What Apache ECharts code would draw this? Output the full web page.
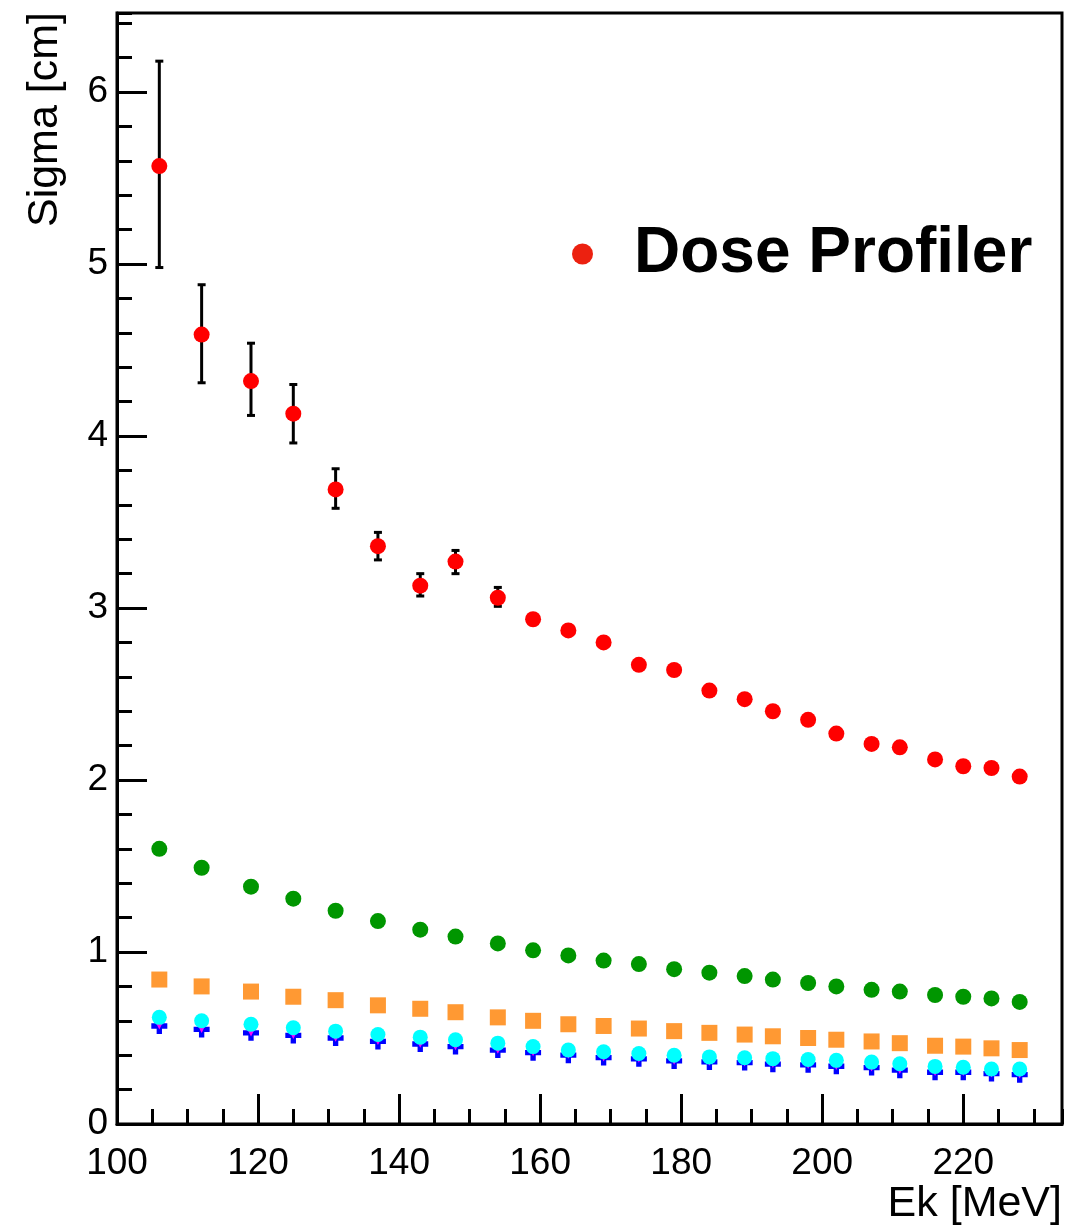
<!DOCTYPE html>
<html>
<head>
<meta charset="utf-8">
<title>Sigma vs Ek</title>
<script src="https://cdn.jsdelivr.net/npm/echarts@6/dist/echarts.min.js"></script>
<style>
  html, body { margin: 0; padding: 0; background: #fff; }
  #chart { width: 1076px; height: 1226px; }
</style>
</head>
<body>
<div id="chart"></div>
<script>
// Beam kinetic energy [MeV]
const energies = [106, 112, 119, 125, 131, 137, 143, 148, 154, 159, 164, 169, 174,
                  179, 184, 189, 193, 198, 202, 207, 211, 216, 220, 224, 228];

// Dose Profiler sigma [cm]
const doseProfiler = [5.57, 4.59, 4.32, 4.13, 3.69, 3.36, 3.13, 3.27, 3.06, 2.935, 2.87, 2.80, 2.67,
                      2.64, 2.52, 2.47, 2.40, 2.35, 2.27, 2.21, 2.19, 2.12, 2.08, 2.07, 2.02];
// Error band of the first Dose Profiler points (low / high edge)
const doseErrLow  = [4.98, 4.31, 4.12, 3.96, 3.58, 3.28, 3.07, 3.20, 3.01];
const doseErrHigh = [6.18, 4.88, 4.54, 4.30, 3.81, 3.44, 3.20, 3.335, 3.12];

// Other sigma curves [cm]
const greenSigma = [1.60, 1.49, 1.38, 1.31, 1.24, 1.18, 1.13, 1.09, 1.05, 1.01, 0.98, 0.95, 0.93,
                    0.90, 0.88, 0.86, 0.84, 0.82, 0.80, 0.78, 0.77, 0.75, 0.74, 0.73, 0.71];
const orangeSigma = [0.84, 0.80, 0.77, 0.74, 0.72, 0.69, 0.67, 0.65, 0.62, 0.60, 0.58, 0.57, 0.555,
                     0.54, 0.53, 0.52, 0.51, 0.50, 0.49, 0.48, 0.47, 0.455, 0.45, 0.44, 0.43];
const cyanSigma = [0.62, 0.60, 0.58, 0.56, 0.54, 0.52, 0.505, 0.49, 0.47, 0.45, 0.43, 0.42, 0.41,
                   0.40, 0.39, 0.385, 0.38, 0.375, 0.37, 0.36, 0.35, 0.335, 0.33, 0.32, 0.32];
const blueSigma = [0.57, 0.55, 0.53, 0.515, 0.50, 0.48, 0.465, 0.45, 0.43, 0.415, 0.40, 0.386, 0.379,
                   0.367, 0.361, 0.357, 0.348, 0.344, 0.336, 0.328, 0.313, 0.301, 0.301, 0.293, 0.287];
const magentaSigma = [0.575, 0.555, 0.535, 0.52, 0.505, 0.485, 0.47, 0.455, 0.435, 0.42, 0.405, 0.39, 0.383,
                      0.371, 0.365, 0.361, 0.352, 0.348, 0.34, 0.332, 0.317, 0.305, 0.305, 0.297, 0.291];

// Axis ranges and ticks
const xMin = 100, xMax = 234, xMajor = 20, xMinor = 5;
const yMin = 0, yMax = 6.46, yMajor = 1, yMinor = 0.2;
const xTitle = 'Ek [MeV]';
const yTitle = 'Sigma [cm]';
const legendName = 'Dose Profiler';

const FONT = '"Liberation Sans", Arial, Helvetica, sans-serif';
const pair = (xs, ys) => ys.map((v, i) => [xs[i], v]);
const errData = doseErrLow.map((lo, i) => [energies[i], lo, doseErrHigh[i]]);

const chart = echarts.init(document.getElementById('chart'), null, { renderer: 'canvas' });

const majorTick = { show: true, inside: true, length: 30, lineStyle: { color: '#000', width: 3 } };
const minorTick = { show: true, inside: true, length: 15, lineStyle: { color: '#000', width: 3 } };

const crossPath = 'path://M1,0H2V1H3V2H2V3H1V2H0V1H1Z';

chart.setOption({
  animation: false,
  backgroundColor: '#fff',
  grid: {
    left: 117, right: 14, top: 13, bottom: 102,
    show: true, borderColor: '#000', borderWidth: 3, backgroundColor: 'transparent'
  },
  legend: {
    show: true,
    left: 567, top: 217,
    itemWidth: 21, itemHeight: 21,
    icon: 'circle',
    data: [{ name: legendName, itemStyle: { color: '#ec2110', opacity: 1 } }],
    textStyle: {
      fontFamily: FONT, fontSize: 64, fontWeight: 'bold', color: '#000',
      lineHeight: 64, padding: [0, 0, 0, 36]
    }
  },
  xAxis: [
    {
      type: 'value', min: xMin, max: xMax, interval: xMajor, position: 'bottom',
      axisLine: { show: true, onZero: false, lineStyle: { color: '#000', width: 3 } },
      axisTick: majorTick,
      splitLine: { show: false },
      axisLabel: {
        show: true, margin: 21, showMaxLabel: false,
        fontFamily: FONT, fontSize: 37, color: '#000'
      }
    },
    {
      type: 'value', min: xMin, max: xMax, interval: xMinor, position: 'bottom',
      axisLine: { show: false, onZero: false },
      axisTick: minorTick,
      splitLine: { show: false },
      axisLabel: { show: false }
    }
  ],
  yAxis: [
    {
      type: 'value', min: yMin, max: yMax, interval: yMajor, position: 'left',
      axisLine: { show: true, onZero: false, lineStyle: { color: '#000', width: 3 } },
      axisTick: majorTick,
      splitLine: { show: false },
      axisLabel: {
        show: true, margin: 9, showMaxLabel: false,
        fontFamily: FONT, fontSize: 37, color: '#000'
      }
    },
    {
      type: 'value', min: yMin, max: yMax, interval: yMinor, position: 'left',
      axisLine: { show: false, onZero: false },
      axisTick: minorTick,
      splitLine: { show: false },
      axisLabel: { show: false }
    }
  ],
  graphic: [
    {
      type: 'text', x: 45, y: 12, rotation: Math.PI / 2,
      style: { text: yTitle, font: '43px ' + FONT, fill: '#000', align: 'right', verticalAlign: 'middle' }
    },
    {
      type: 'text', x: 1062, y: 1204,
      style: { text: xTitle, font: '43px ' + FONT, fill: '#000', align: 'right', verticalAlign: 'middle' }
    }
  ],
  series: [
    {
      name: 'blue', type: 'scatter', z: 2,
      symbol: crossPath, symbolSize: 16,
      itemStyle: { color: '#0000ff', opacity: 1 },
      data: pair(energies, blueSigma)
    },
    {
      name: 'magenta', type: 'scatter', z: 3,
      symbol: 'triangle', symbolRotate: 180, symbolSize: 9,
      itemStyle: { color: '#ff00ff', opacity: 1 },
      data: pair(energies, magentaSigma)
    },
    {
      name: 'cyan', type: 'scatter', z: 4,
      symbol: 'circle', symbolSize: 15,
      itemStyle: { color: '#00ffff', opacity: 1 },
      data: pair(energies, cyanSigma)
    },
    {
      name: 'orange', type: 'scatter', z: 5,
      symbol: 'rect', symbolSize: 16,
      itemStyle: { color: '#ff9933', opacity: 1 },
      data: pair(energies, orangeSigma)
    },
    {
      name: 'green', type: 'scatter', z: 6,
      symbol: 'circle', symbolSize: 16,
      itemStyle: { color: '#009600', opacity: 1 },
      data: pair(energies, greenSigma)
    },
    {
      name: 'errors', type: 'custom', z: 7,
      renderItem: function (params, api) {
        const x = api.value(0);
        const top = api.coord([x, api.value(2)]);
        const bot = api.coord([x, api.value(1)]);
        const w = 4;
        const st = { stroke: '#000', lineWidth: 3 };
        return {
          type: 'group',
          children: [
            { type: 'line', shape: { x1: top[0], y1: top[1], x2: bot[0], y2: bot[1] }, style: st },
            { type: 'line', shape: { x1: top[0] - w, y1: top[1], x2: top[0] + w, y2: top[1] }, style: st },
            { type: 'line', shape: { x1: bot[0] - w, y1: bot[1], x2: bot[0] + w, y2: bot[1] }, style: st }
          ]
        };
      },
      data: errData
    },
    {
      name: legendName, type: 'scatter', z: 8,
      symbol: 'circle', symbolSize: 16,
      itemStyle: { color: '#ff0000', opacity: 1 },
      data: pair(energies, doseProfiler)
    }
  ]
});
</script>
</body>
</html>
